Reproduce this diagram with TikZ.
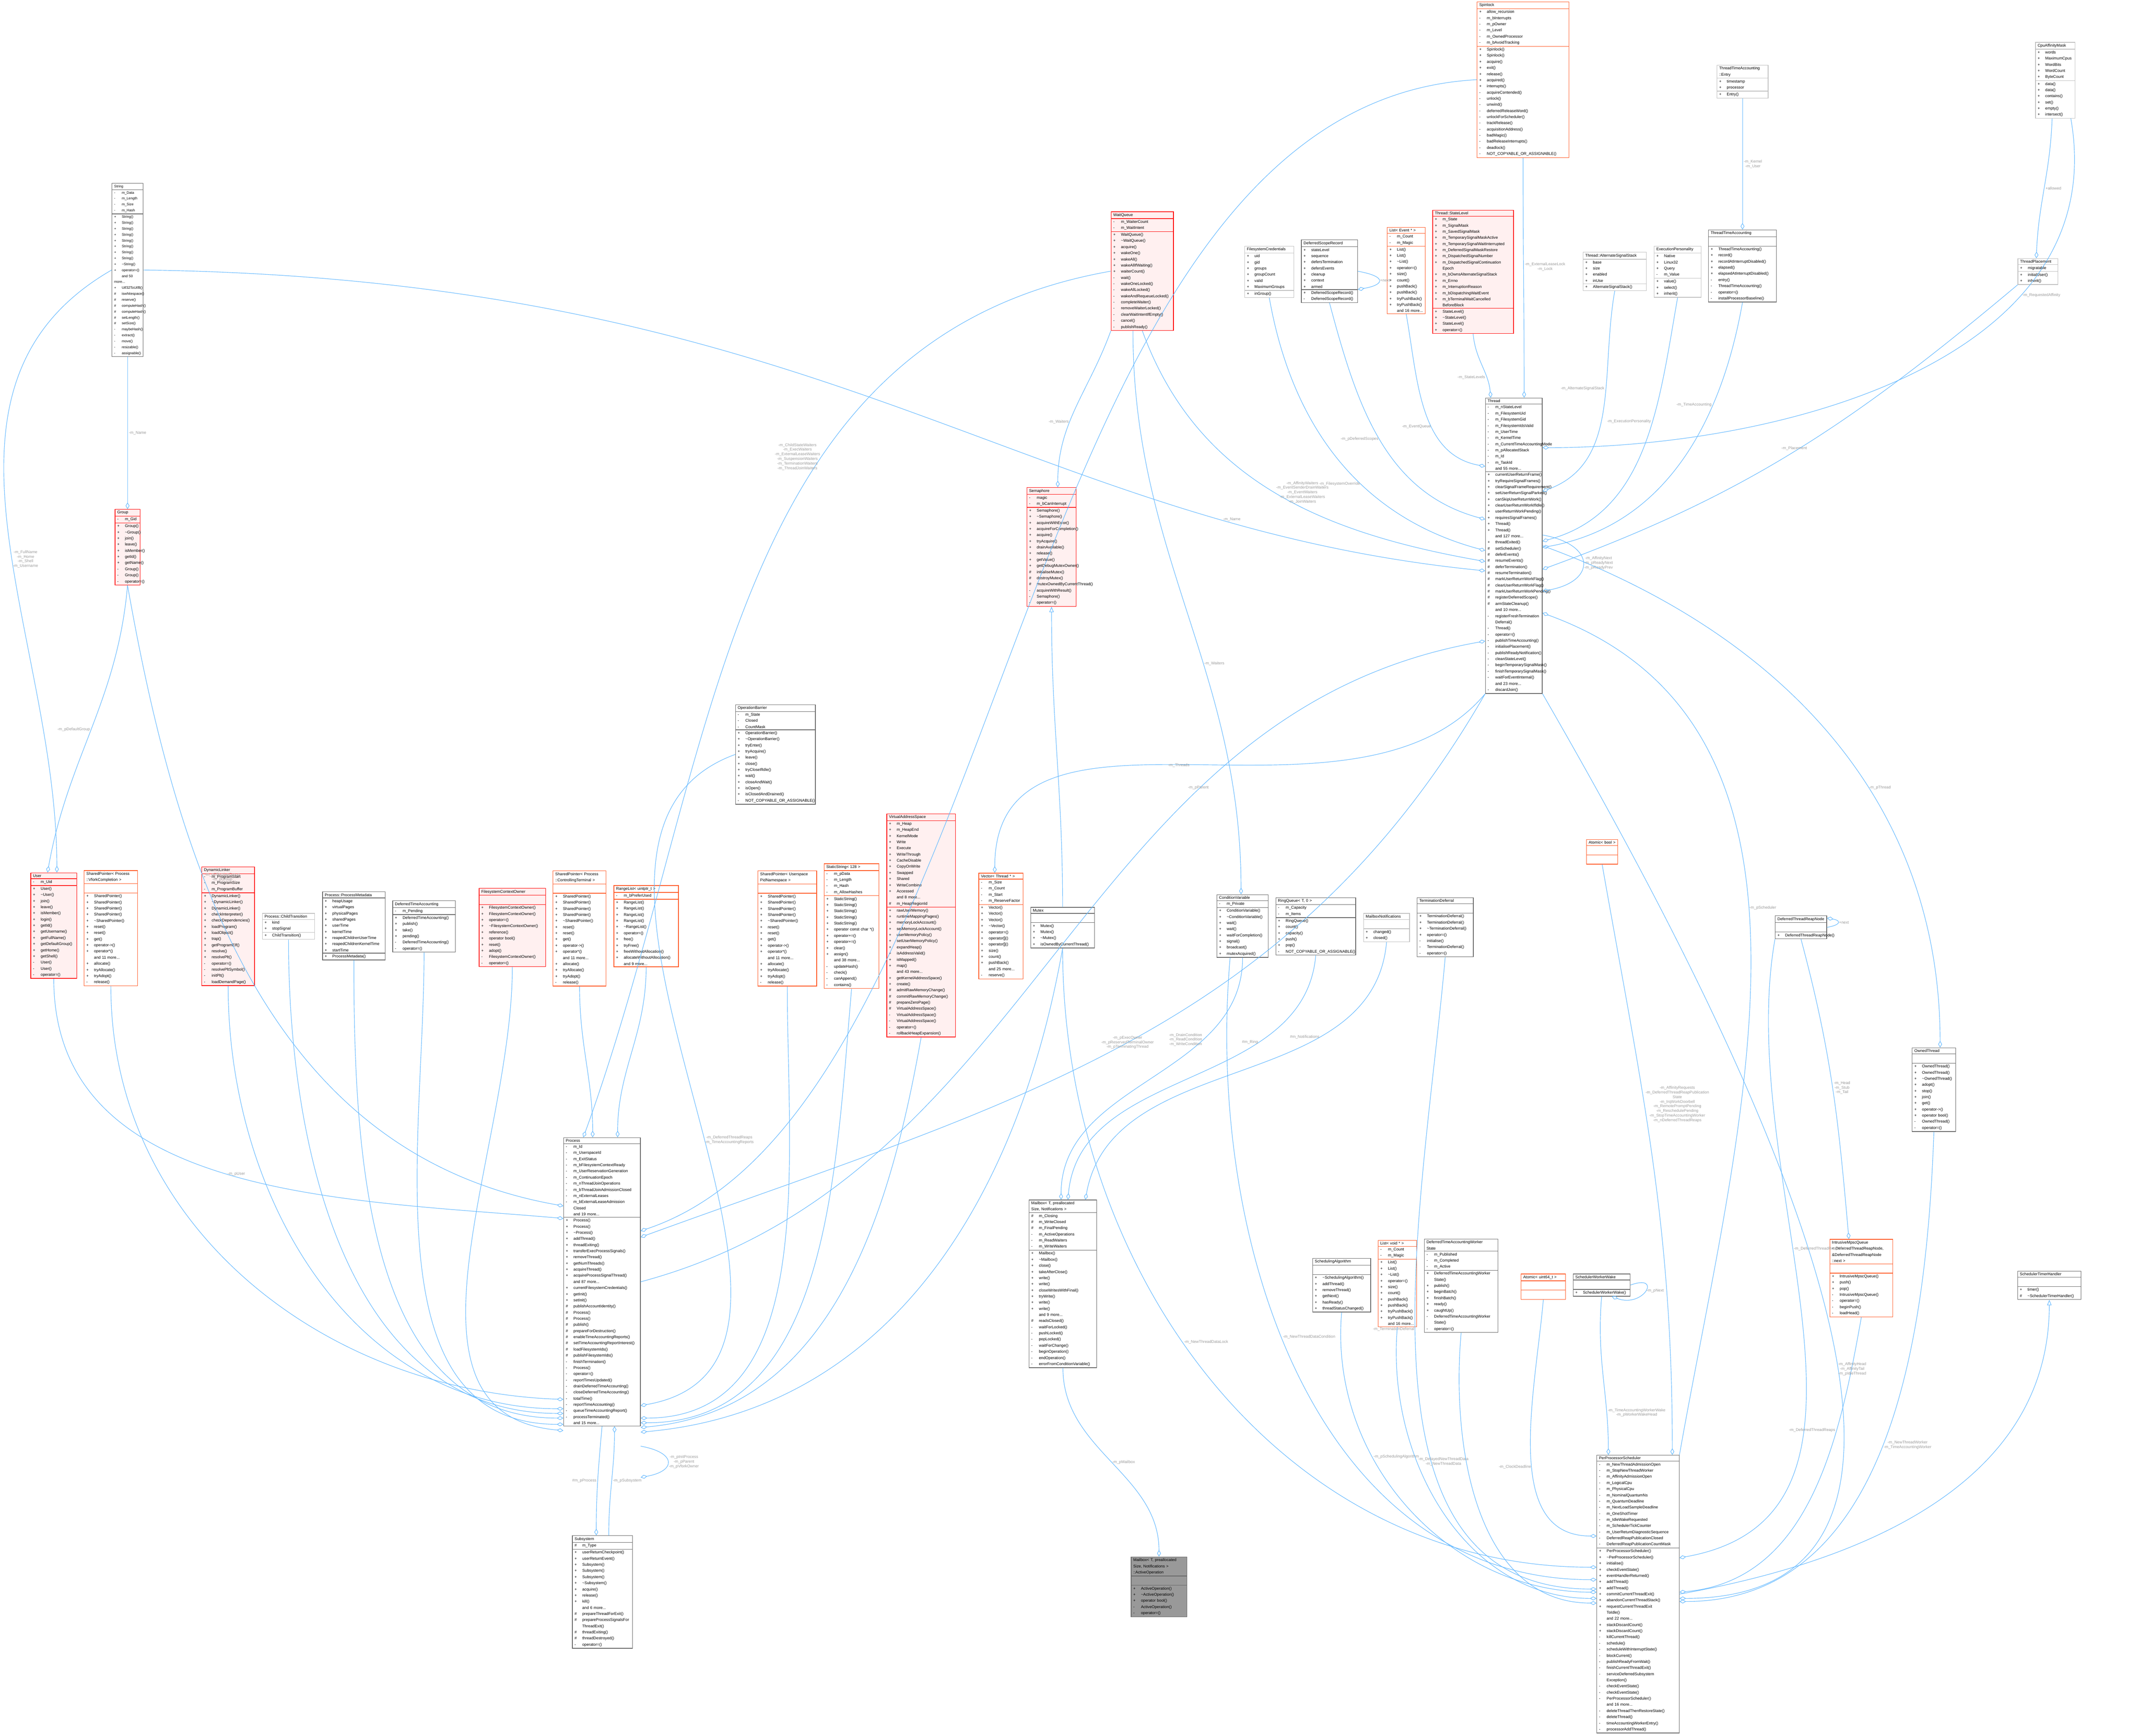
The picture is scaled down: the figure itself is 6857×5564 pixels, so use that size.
\documentclass[tikz,border=0pt]{standalone}
\usepackage{fontspec}
\setmainfont{Liberation Sans}
\usepackage{tikz}
\usetikzlibrary{arrows.meta}
\usetikzlibrary{shapes.multipart}
\usetikzlibrary{calc}

\definecolor{edgeblue}{HTML}{63B8FF}
\definecolor{lblgray}{HTML}{9A9A9A}
\definecolor{boxgray}{HTML}{666666}
\definecolor{boxlight}{HTML}{BFBFBF}
\definecolor{boxred}{HTML}{FF0000}
\definecolor{redfill}{HTML}{FFF0F0}
\definecolor{boxorange}{HTML}{FF5722}
\definecolor{focusfill}{HTML}{999999}

\newcommand\cpub[1]{\makebox[7pt][l]{+}#1}
\newcommand\cpri[1]{\makebox[7pt][l]{-}#1}
\newcommand\cpro[1]{\makebox[7pt][l]{\#}#1}
\newcommand\cnone[1]{\makebox[7pt][l]{}#1}
\newcommand\tld{\textasciitilde}
% name, style, x, y, width, title, attributes, methods
\newcommand\cls[8]{\node[#2, text width=\dimexpr0.01cm*#5-4pt\relax] (#1) at (#3,#4) {#6\nodepart{two}#7\nodepart{three}#8};}

\begin{document}
\catcode`\_=12
\begin{tikzpicture}[x=0.01cm,y=-0.01cm,
    umlbase/.style={rectangle split, rectangle split parts=3, anchor=north west,
        rectangle split part align={center,left,left}, inner xsep=2pt, inner ysep=1.2pt,
        line width=0.5pt, font=\fontsize{3.6}{5.6}\selectfont},
    clsgray/.style={umlbase, draw=boxgray, fill=white},
    clslight/.style={umlbase, draw=boxlight, fill=white},
    clsred/.style={umlbase, draw=boxred, fill=redfill},
    clsorange/.style={umlbase, draw=boxorange, fill=white},
    clsfocus/.style={umlbase, draw=boxgray, fill=focusfill},
    agg/.style={draw=edgeblue, line width=0.45pt, -{Diamond[open,length=6pt,width=3.5pt]}},
    inh/.style={draw=edgeblue, line width=0.45pt, -{Triangle[open,length=5pt,width=4pt]}},
    lbl/.style={text=lblgray, font=\fontsize{3.6}{4.2}\selectfont, align=center, inner sep=1pt}]

\useasboundingbox (0,0) rectangle (6857,5564);

% top rows
\cls{Spinlock}{clsorange}{4734}{5}{295}{Spinlock}
 {\cpub{allow_recursion}\\\cpri{m_bInterrupts}\\\cpri{m_pOwner}\\\cpri{m_Level}\\\cpri{m_OwnedProcessor}\\\cpri{m_bAvoidTracking}}
 {\cpub{Spinlock()}\\\cpub{Spinlock()}\\\cpub{acquire()}\\\cpub{exit()}\\\cpub{release()}\\\cpub{acquired()}\\\cpub{interrupts()}\\\cpri{acquireContended()}\\\cpri{unlock()}\\\cpri{unwind()}\\\cpri{deferredReleaseWord()}\\\cpri{unlockForScheduler()}\\\cpri{trackRelease()}\\\cpri{acquisitionAddress()}\\\cpri{badMagic()}\\\cpri{badReleaseInterrupts()}\\\cpri{deadlock()}\\\cpri{NOT_COPYABLE_OR_ASSIGNABLE()}}
\cls{String}{clsgray,font=\fontsize{3.2}{5.4}\selectfont}{358}{587}{100}{String}
 {\cpri{m_Data}\\\cpri{m_Length}\\\cpri{m_Size}\\\cpri{m_Hash}}
 {\cpub{String()}\\\cpub{String()}\\\cpub{String()}\\\cpub{String()}\\\cpub{String()}\\\cpub{String()}\\\cpub{String()}\\\cpub{String()}\\\cpub{\tld String()}\\\cpub{operator=()}\\\cnone{and 50 more...}\\\cpub{Utf32ToUtf8()}\\\cpro{iswhitespace()}\\\cpro{reserve()}\\\cpro{computeHash()}\\\cpro{computeHash()}\\\cpro{setLength()}\\\cpro{setSize()}\\\cpri{maybeHash()}\\\cpri{extract()}\\\cpri{move()}\\\cpri{resizable()}\\\cpri{assignable()}}
\cls{Group}{clsred}{368}{1632}{80}{Group}
 {\cpri{m_Gid}}
 {\cpub{Group()}\\\cpub{\tld Group()}\\\cpub{join()}\\\cpub{leave()}\\\cpub{isMember()}\\\cpub{getId()}\\\cpub{getName()}\\\cpri{Group()}\\\cpri{Group()}\\\cpri{operator=()}}
\cls{WaitQueue}{clsred}{3561}{678}{200}{WaitQueue}
 {\cpri{m_WaiterCount}\\\cpri{m_WaitIntent}}
 {\cpub{WaitQueue()}\\\cpub{\tld WaitQueue()}\\\cpub{acquire()}\\\cpub{wakeOne()}\\\cpub{wakeAll()}\\\cpub{wakeAllIfWaiting()}\\\cpub{waiterCount()}\\\cpri{wait()}\\\cpri{wakeOneLocked()}\\\cpri{wakeAllLocked()}\\\cpri{wakeAndRequeueLocked()}\\\cpri{completeWaiter()}\\\cpri{removeWaiterLocked()}\\\cpri{clearWaitIntentIfEmpty()}\\\cpri{cancel()}\\\cpri{publishReady()}}
\cls{FsCreds}{clslight}{3989}{788}{158}{FilesystemCredentials}
 {\cpub{uid}\\\cpub{gid}\\\cpub{groups}\\\cpub{groupCount}\\\cpub{valid}\\\cpub{MaximumGroups}}
 {\cpub{inGroup()}}
\cls{ScopeRecord}{clsgray}{4171}{768}{180}{DeferredScopeRecord}
 {\cpub{stateLevel}\\\cpub{sequence}\\\cpub{defersTermination}\\\cpub{defersEvents}\\\cpub{cleanup}\\\cpub{context}\\\cpub{armed}}
 {\cpub{DeferredScopeRecord()}\\\cpri{DeferredScopeRecord()}}
\cls{ListEvent}{clsorange}{4446}{728}{122}{List< Event * >}
 {\cpri{m_Count}\\\cpri{m_Magic}}
 {\cpub{List()}\\\cpub{List()}\\\cpub{\tld List()}\\\cpub{operator=()}\\\cpub{size()}\\\cpub{count()}\\\cpub{pushBack()}\\\cpub{pushBack()}\\\cpub{tryPushBack()}\\\cpub{tryPushBack()}\\\cnone{and 16 more...}}
\cls{StateLevel}{clsred}{4592}{673}{259}{Thread::StateLevel}
 {\cpub{m_State}\\\cpub{m_SignalMask}\\\cpub{m_SavedSignalMask}\\\cpub{m_TemporarySignalMaskActive}\\\cpub{m_TemporarySignalWaitInterrupted}\\\cpub{m_DeferredSignalMaskRestore}\\\cpub{m_DispatchedSignalNumber}\\\cpub{m_DispatchedSignalContinuation}\\\cnone{Epoch}\\\cpub{m_bOwnsAlternateSignalStack}\\\cpub{m_Errno}\\\cpub{m_InterruptionReason}\\\cpub{m_bDispatchingWaitEvent}\\\cpub{m_bTerminalWaitCancelled}\\\cnone{BeforeBlock}}
 {\cpub{StateLevel()}\\\cpub{\tld StateLevel()}\\\cpub{StateLevel()}\\\cpub{operator=()}}
\cls{AltStack}{clslight}{5074}{808}{203}{Thread::AlternateSignalStack}
 {\cpub{base}\\\cpub{size}\\\cpub{enabled}\\\cpub{inUse}}
 {\cpub{AlternateSignalStack()}}
\cls{Personality}{clslight}{5302}{788}{150}{ExecutionPersonality}
 {\cpub{Native}\\\cpub{Linux32}\\\cpub{Query}\\\cpri{m_Value}}
 {\cpub{value()}\\\cpub{select()}\\\cpub{inherit()}}
\cls{TimeAcct}{clsgray}{5476}{736}{218}{ThreadTimeAccounting}
 {\strut}
 {\cpub{ThreadTimeAccounting()}\\\cpub{record()}\\\cpub{recordAtInterruptDisabled()}\\\cpub{elapsed()}\\\cpub{elapsedAtInterruptDisabled()}\\\cpri{entry()}\\\cpri{ThreadTimeAccounting()}\\\cpri{operator=()}\\\cpri{installProcessorBaseline()}}
\cls{TimeEntry}{clslight}{5503}{208}{164}{ThreadTimeAccounting\\::Entry}
 {\cpub{timestamp}\\\cpub{processor}}
 {\cpub{Entry()}}
\cls{Affinity}{clslight}{6524}{135}{127}{CpuAffinityMask}
 {\cpub{words}\\\cpub{MaximumCpus}\\\cpub{WordBits}\\\cpub{WordCount}\\\cpub{ByteCount}}
 {\cpub{data()}\\\cpub{data()}\\\cpub{contains()}\\\cpub{set()}\\\cpub{empty()}\\\cpub{intersect()}}
\cls{Placement}{clslight}{6468}{828}{128}{ThreadPlacement}
 {\cpub{migratable}}
 {\cpub{initialUser()}\\\cpub{inherit()}}
\cls{Semaphore}{clsred}{3291}{1562}{158}{Semaphore}
 {\cpri{magic}\\\cpri{m_bCanInterrupt}}
 {\cpub{Semaphore()}\\\cpub{\tld Semaphore()}\\\cpub{acquireWithError()}\\\cpub{acquireForCompletion()}\\\cpub{acquire()}\\\cpub{tryAcquire()}\\\cpub{drainAvailable()}\\\cpub{release()}\\\cpub{getValue()}\\\cpub{getDebugMutexOwner()}\\\cpro{initialiseMutex()}\\\cpro{destroyMutex()}\\\cpro{mutexOwnedByCurrentThread()}\\\cpri{acquireWithResult()}\\\cpri{Semaphore()}\\\cpri{operator=()}}
\cls{Thread}{clsgray}{4761}{1275}{182}{Thread}
 {\cpri{m_nStateLevel}\\\cpri{m_FilesystemUid}\\\cpri{m_FilesystemGid}\\\cpri{m_FilesystemIdsValid}\\\cpri{m_UserTime}\\\cpri{m_KernelTime}\\\cpri{m_CurrentTimeAccountingMode}\\\cpri{m_pAllocatedStack}\\\cpri{m_Id}\\\cpri{m_TaskId}\\\cnone{and 55 more...}}
 {\cpub{currentUserReturnFrame()}\\\cpub{tryRequireSignalFrames()}\\\cpub{clearSignalFrameRequirement()}\\\cpub{setUserReturnSignalParked()}\\\cpub{canSkipUserReturnWork()}\\\cpub{clearUserReturnWorkIfIdle()}\\\cpub{userReturnWorkPending()}\\\cpub{requiresSignalFrames()}\\\cpub{Thread()}\\\cpub{Thread()}\\\cnone{and 127 more...}\\\cpub{threadExited()}\\\cpro{setScheduler()}\\\cpro{deferEvents()}\\\cpro{resumeEvents()}\\\cpro{deferTermination()}\\\cpro{resumeTermination()}\\\cpro{markUserReturnWorkFlag()}\\\cpro{clearUserReturnWorkFlag()}\\\cpro{markUserReturnWorkPending()}\\\cpro{registerDeferredScope()}\\\cpro{armStateCleanup()}\\\cnone{and 10 more...}\\\cpri{registerFreshTermination}\\\cnone{Deferral()}\\\cpri{Thread()}\\\cpri{operator=()}\\\cpri{publishTimeAccounting()}\\\cpri{initialisePlacement()}\\\cpri{publishReadyNotification()}\\\cpri{cleanStateLevel()}\\\cpri{beginTemporarySignalMask()}\\\cpri{finishTemporarySignalMask()}\\\cpri{waitForEventInternal()}\\\cnone{and 23 more...}\\\cpri{discardJoin()}}
\cls{OpBarrier}{clsgray}{2357}{2258}{256}{OperationBarrier}
 {\cpri{m_State}\\\cpri{Closed}\\\cpri{CountMask}}
 {\cpub{OperationBarrier()}\\\cpub{\tld OperationBarrier()}\\\cpub{tryEnter()}\\\cpub{tryAcquire()}\\\cpub{leave()}\\\cpub{close()}\\\cpub{tryCloseIfIdle()}\\\cpub{wait()}\\\cpub{closeAndWait()}\\\cpub{isOpen()}\\\cpub{isClosedAndDrained()}\\\cpri{NOT_COPYABLE_OR_ASSIGNABLE()}}

% middle row
\cls{User}{clsred}{98}{2797}{147}{User}
 {\cpri{m_Uid}}
 {\cpub{User()}\\\cpub{\tld User()}\\\cpub{join()}\\\cpub{leave()}\\\cpub{isMember()}\\\cpub{login()}\\\cpub{getId()}\\\cpub{getUsername()}\\\cpub{getFullName()}\\\cpub{getDefaultGroup()}\\\cpub{getHome()}\\\cpub{getShell()}\\\cpri{User()}\\\cpri{User()}\\\cpri{operator=()}}
\cls{SpVfork}{clsorange}{269}{2790}{171}{SharedPointer< Process\\::VforkCompletion >}
 {\strut}
 {\cpub{SharedPointer()}\\\cpub{SharedPointer()}\\\cpub{SharedPointer()}\\\cpub{SharedPointer()}\\\cpub{\tld SharedPointer()}\\\cpub{reset()}\\\cpub{reset()}\\\cpub{get()}\\\cpub{operator->()}\\\cpub{operator*()}\\\cnone{and 11 more...}\\\cpub{allocate()}\\\cpub{tryAllocate()}\\\cpub{tryAdopt()}\\\cpri{release()}}
\cls{Linker}{clsred}{646}{2778}{169}{DynamicLinker}
 {\cpri{m_ProgramStart}\\\cpri{m_ProgramSize}\\\cpri{m_ProgramBuffer}}
 {\cpub{DynamicLinker()}\\\cpub{\tld DynamicLinker()}\\\cpub{DynamicLinker()}\\\cpub{checkInterpreter()}\\\cpub{checkDependencies()}\\\cpub{loadProgram()}\\\cpub{loadObject()}\\\cpub{trap()}\\\cpub{getProgramElf()}\\\cpub{resolve()}\\\cpub{resolvePlt()}\\\cpri{operator=()}\\\cpri{resolvePltSymbol()}\\\cpri{initPlt()}\\\cpri{loadDemandPage()}}
\cls{ChildTrans}{clslight}{840}{2927}{168}{Process::ChildTransition}
 {\cpub{kind}\\\cpub{stopSignal}}
 {\cpub{ChildTransition()}}
\cls{ProcMeta}{clsgray}{1033}{2858}{201}{Process::ProcessMetadata}
 {\cpub{heapUsage}\\\cpub{virtualPages}\\\cpub{physicalPages}\\\cpub{sharedPages}\\\cpub{userTime}\\\cpub{kernelTime}\\\cpub{reapedChildrenUserTime}\\\cpub{reapedChildrenKernelTime}\\\cpub{startTime}}
 {\cpub{ProcessMetadata()}}
\cls{DefTimeAcct}{clsgray}{1258}{2887}{201}{DeferredTimeAccounting}
 {\cpri{m_Pending}}
 {\cpub{DeferredTimeAccounting()}\\\cpub{publish()}\\\cpub{take()}\\\cpub{pending()}\\\cpri{DeferredTimeAccounting()}\\\cpri{operator=()}}
\cls{FsOwner}{clsred}{1535}{2847}{213}{FilesystemContextOwner}
 {\strut}
 {\cpub{FilesystemContextOwner()}\\\cpub{FilesystemContextOwner()}\\\cpub{operator=()}\\\cpub{\tld FilesystemContextOwner()}\\\cpub{reference()}\\\cpub{operator bool()}\\\cpub{reset()}\\\cpub{adopt()}\\\cpri{FilesystemContextOwner()}\\\cpri{operator=()}}
\cls{SpTerminal}{clsorange}{1772}{2791}{170}{SharedPointer< Process\\::ControllingTerminal >}
 {\strut}
 {\cpub{SharedPointer()}\\\cpub{SharedPointer()}\\\cpub{SharedPointer()}\\\cpub{SharedPointer()}\\\cpub{\tld SharedPointer()}\\\cpub{reset()}\\\cpub{reset()}\\\cpub{get()}\\\cpub{operator->()}\\\cpub{operator*()}\\\cnone{and 11 more...}\\\cpub{allocate()}\\\cpub{tryAllocate()}\\\cpub{tryAdopt()}\\\cpri{release()}}
\cls{RangeList}{clsorange}{1967}{2838}{207}{RangeList< uintptr_t >}
 {\cpri{m_bPreferUsed}}
 {\cpub{RangeList()}\\\cpub{RangeList()}\\\cpub{RangeList()}\\\cpub{RangeList()}\\\cpub{\tld RangeList()}\\\cpub{operator=()}\\\cpub{free()}\\\cpub{tryFree()}\\\cpub{freeWithoutAllocation()}\\\cpub{allocateWithoutAllocation()}\\\cnone{and 9 more...}}
\cls{SpPidNs}{clsorange}{2429}{2791}{188}{SharedPointer< Userspace\\PidNamespace >}
 {\strut}
 {\cpub{SharedPointer()}\\\cpub{SharedPointer()}\\\cpub{SharedPointer()}\\\cpub{SharedPointer()}\\\cpub{\tld SharedPointer()}\\\cpub{reset()}\\\cpub{reset()}\\\cpub{get()}\\\cpub{operator->()}\\\cpub{operator*()}\\\cnone{and 11 more...}\\\cpub{allocate()}\\\cpub{tryAllocate()}\\\cpub{tryAdopt()}\\\cpri{release()}}
\cls{StaticStr}{clsorange}{2641}{2768}{176}{StaticString< 128 >}
 {\cpri{m_pData}\\\cpri{m_Length}\\\cpri{m_Hash}\\\cpri{m_AllowHashes}}
 {\cpub{StaticString()}\\\cpub{StaticString()}\\\cpub{StaticString()}\\\cpub{StaticString()}\\\cpub{StaticString()}\\\cpub{operator const char *()}\\\cpub{operator+=()}\\\cpub{operator+=()}\\\cpub{clear()}\\\cpub{assign()}\\\cnone{and 38 more...}\\\cpri{updateHash()}\\\cpri{check()}\\\cpri{canAppend()}\\\cpri{contains()}}
\cls{Vas}{clsred}{2842}{2608}{220}{VirtualAddressSpace}
 {\cpub{m_Heap}\\\cpub{m_HeapEnd}\\\cpub{KernelMode}\\\cpub{Write}\\\cpub{Execute}\\\cpub{WriteThrough}\\\cpub{CacheDisable}\\\cpub{CopyOnWrite}\\\cpub{Swapped}\\\cpub{Shared}\\\cpub{WriteCombine}\\\cpub{Accessed}\\\cnone{and 8 more...}\\\cpro{m_HeapRegionId}}
 {\cpub{rawUserMemory()}\\\cpub{runtimeMappingPages()}\\\cpub{memoryLockAccount()}\\\cpub{setMemoryLockAccount()}\\\cpub{userMemoryPolicy()}\\\cpub{setUserMemoryPolicy()}\\\cpub{expandHeap()}\\\cpub{isAddressValid()}\\\cpub{isMapped()}\\\cpub{map()}\\\cnone{and 43 more...}\\\cpub{getKernelAddressSpace()}\\\cpub{create()}\\\cpro{admitRawMemoryChange()}\\\cpro{commitRawMemoryChange()}\\\cpro{prepareZeroPage()}\\\cpro{VirtualAddressSpace()}\\\cpri{VirtualAddressSpace()}\\\cpri{VirtualAddressSpace()}\\\cpri{operator=()}\\\cpri{rollbackHeapExpansion()}}
\cls{VecThread}{clsorange}{3137}{2798}{142}{Vector< Thread * >}
 {\cpri{m_Size}\\\cpri{m_Count}\\\cpri{m_Start}\\\cpri{m_ReserveFactor}}
 {\cpub{Vector()}\\\cpub{Vector()}\\\cpub{Vector()}\\\cpub{\tld Vector()}\\\cpub{operator=()}\\\cpub{operator[]()}\\\cpub{operator[]()}\\\cpub{size()}\\\cpub{count()}\\\cpub{pushBack()}\\\cnone{and 25 more...}\\\cpri{reserve()}}
\cls{Mutex}{clsgray}{3303}{2908}{205}{Mutex}
 {\strut}
 {\cpub{Mutex()}\\\cpub{Mutex()}\\\cpub{\tld Mutex()}\\\cpub{isOwnedByCurrentThread()}}
\cls{CondVar}{clsgray}{3900}{2867}{165}{ConditionVariable}
 {\cpri{m_Private}}
 {\cpub{ConditionVariable()}\\\cpub{\tld ConditionVariable()}\\\cpub{wait()}\\\cpub{wait()}\\\cpub{waitForCompletion()}\\\cpub{signal()}\\\cpub{broadcast()}\\\cpub{mutexAcquired()}}
\cls{Ring}{clsgray}{4089}{2877}{256}{RingQueue< T, 0 >}
 {\cpri{m_Capacity}\\\cpri{m_Items}}
 {\cpub{RingQueue()}\\\cpub{count()}\\\cpub{capacity()}\\\cpub{push()}\\\cpub{pop()}\\\cpri{NOT_COPYABLE_OR_ASSIGNABLE()}}
\cls{Notif}{clslight}{4370}{2927}{148}{MailboxNotifications}
 {\strut}
 {\cpub{changed()}\\\cpub{closed()}}
\cls{TermDef}{clsgray}{4542}{2877}{180}{TerminationDeferral}
 {\strut}
 {\cpub{TerminationDeferral()}\\\cpub{TerminationDeferral()}\\\cpub{\tld TerminationDeferral()}\\\cpub{operator=()}\\\cpri{initialise()}\\\cpri{TerminationDeferral()}\\\cpri{operator=()}}
\cls{AtomicBool}{clsorange}{5085}{2690}{100}{Atomic< bool >}{\strut}{\strut}
\cls{ReapNode}{clsgray}{5690}{2935}{165}{DeferredThreadReapNode}
 {\strut}
 {\cpub{DeferredThreadReapNode()}}
\cls{Owned}{clsgray}{6129}{3358}{139}{OwnedThread}
 {\strut}
 {\cpub{OwnedThread()}\\\cpub{OwnedThread()}\\\cpub{\tld OwnedThread()}\\\cpub{adopt()}\\\cpub{stop()}\\\cpub{join()}\\\cpub{get()}\\\cpub{operator->()}\\\cpub{operator bool()}\\\cpri{OwnedThread()}\\\cpri{operator=()}}

% lower rows
\cls{Process}{clsgray}{1806}{3646}{246}{Process}
 {\cpri{m_Id}\\\cpri{m_UserspaceId}\\\cpri{m_ExitStatus}\\\cpri{m_bFilesystemContextReady}\\\cpri{m_UserReservationGeneration}\\\cpri{m_ContinuationEpoch}\\\cpri{m_nThreadJoinOperations}\\\cpri{m_bThreadJoinAdmissionClosed}\\\cpri{m_nExternalLeases}\\\cpri{m_bExternalLeaseAdmission}\\\cnone{Closed}\\\cnone{and 19 more...}}
 {\cpub{Process()}\\\cpub{Process()}\\\cpub{\tld Process()}\\\cpub{addThread()}\\\cpub{threadExiting()}\\\cpub{transferExecProcessSignals()}\\\cpub{removeThread()}\\\cpub{getNumThreads()}\\\cpub{acquireThread()}\\\cpub{acquireProcessSignalThread()}\\\cnone{and 87 more...}\\\cpub{currentFilesystemCredentials()}\\\cpub{getInit()}\\\cpub{setInit()}\\\cpro{publishAccountIdentity()}\\\cpro{Process()}\\\cpro{Process()}\\\cpro{publish()}\\\cpro{prepareForDestruction()}\\\cpro{enableTimeAccountingReports()}\\\cpro{setTimeAccountingReportInterest()}\\\cpro{loadFilesystemIds()}\\\cpro{publishFilesystemIds()}\\\cpri{finishTermination()}\\\cpri{Process()}\\\cpri{operator=()}\\\cpri{reportTimesUpdated()}\\\cpri{drainDeferredTimeAccounting()}\\\cpri{closeDeferredTimeAccounting()}\\\cpri{totalTime()}\\\cpri{reportTimeAccounting()}\\\cpri{queueTimeAccountingReport()}\\\cpri{processTerminated()}\\\cnone{and 15 more...}}
\cls{Subsystem}{clsgray}{1834}{4922}{193}{Subsystem}
 {\cpro{m_Type}}
 {\cpub{userReturnCheckpoint()}\\\cpub{userReturnEvent()}\\\cpub{Subsystem()}\\\cpub{Subsystem()}\\\cpub{Subsystem()}\\\cpub{\tld Subsystem()}\\\cpub{acquire()}\\\cpub{release()}\\\cpub{kill()}\\\cnone{and 6 more...}\\\cpro{prepareThreadForExit()}\\\cpro{prepareProcessSignalsFor}\\\cnone{ThreadExit()}\\\cpro{threadExiting()}\\\cpro{threadDestroyed()}\\\cpri{operator=()}}
\cls{Mailbox}{clsgray}{3298}{3846}{217}{Mailbox< T, preallocated\\Size, Notifications >}
 {\cpro{m_Closing}\\\cpro{m_WriteClosed}\\\cpro{m_FinalPending}\\\cpri{m_ActiveOperations}\\\cpri{m_ReadWaiters}\\\cpri{m_WriteWaiters}}
 {\cpub{Mailbox()}\\\cpub{\tld Mailbox()}\\\cpub{close()}\\\cpub{takeAfterClose()}\\\cpub{write()}\\\cpub{write()}\\\cpub{closeWritesWithFinal()}\\\cpub{tryWrite()}\\\cpub{write()}\\\cpub{write()}\\\cnone{and 9 more...}\\\cpro{readsClosed()}\\\cpri{waitForLocked()}\\\cpri{pushLocked()}\\\cpri{popLocked()}\\\cpri{waitForChange()}\\\cpri{beginOperation()}\\\cpri{endOperation()}\\\cpri{errorFromConditionVariable()}}
\cls{SchedAlgo}{clsgray}{4207}{4033}{186}{SchedulingAlgorithm}
 {\strut}
 {\cpub{\tld SchedulingAlgorithm()}\\\cpub{addThread()}\\\cpub{removeThread()}\\\cpub{getNext()}\\\cpub{hasReady()}\\\cpub{threadStatusChanged()}}
\cls{ListVoid}{clsorange}{4417}{3975}{123}{List< void * >}
 {\cpri{m_Count}\\\cpri{m_Magic}}
 {\cpub{List()}\\\cpub{List()}\\\cpub{\tld List()}\\\cpub{operator=()}\\\cpub{size()}\\\cpub{count()}\\\cpub{pushBack()}\\\cpub{pushBack()}\\\cpub{tryPushBack()}\\\cpub{tryPushBack()}\\\cnone{and 16 more...}}
\cls{WorkerState}{clsgray}{4565}{3971}{236}{DeferredTimeAccountingWorker\\State}
 {\cpri{m_Published}\\\cpri{m_Completed}\\\cpri{m_Active}}
 {\cpub{DeferredTimeAccountingWorker}\\\cnone{State()}\\\cpub{publish()}\\\cpub{beginBatch()}\\\cpub{finishBatch()}\\\cpub{ready()}\\\cpub{caughtUp()}\\\cpri{DeferredTimeAccountingWorker}\\\cnone{State()}\\\cpri{operator=()}}
\cls{AtomicU64}{clsorange}{4875}{4083}{143}{Atomic< uint64_t >}{\strut}{\strut}
\cls{WorkerWake}{clsgray}{5042}{4083}{183}{SchedulerWorkerWake}
 {\strut}
 {\cpub{SchedulerWorkerWake()}}
\cls{Mpsc}{clsorange}{5865}{3972}{202}{IntrusiveMpscQueue\\< DeferredThreadReapNode,\\\&DeferredThreadReapNode\\::next >}
 {\strut}
 {\cpub{IntrusiveMpscQueue()}\\\cpub{push()}\\\cpub{pop()}\\\cpri{IntrusiveMpscQueue()}\\\cpri{operator=()}\\\cpri{beginPush()}\\\cpri{loadHead()}}
\cls{TimerHandler}{clsgray}{6467}{4074}{203}{SchedulerTimerHandler}
 {\strut}
 {\cpub{timer()}\\\cpro{\tld SchedulerTimerHandler()}}
\cls{Pps}{clsgray}{5118}{4664}{264}{PerProcessorScheduler}
 {\cpri{m_NewThreadAdmissionOpen}\\\cpri{m_StopNewThreadWorker}\\\cpri{m_AffinityAdmissionOpen}\\\cpri{m_LogicalCpu}\\\cpri{m_PhysicalCpu}\\\cpri{m_NominalQuantumNs}\\\cpri{m_QuantumDeadline}\\\cpri{m_NextLoadSampleDeadline}\\\cpri{m_OneShotTimer}\\\cpri{m_IdleWakeRequested}\\\cpri{m_SchedulerTickCounter}\\\cpri{m_UserReturnDiagnosticSequence}\\\cpri{DeferredReapPublicationClosed}\\\cpri{DeferredReapPublicationCountMask}}
 {\cpub{PerProcessorScheduler()}\\\cpub{\tld PerProcessorScheduler()}\\\cpub{initialise()}\\\cpub{checkEventState()}\\\cpub{eventHandlerReturned()}\\\cpub{addThread()}\\\cpub{addThread()}\\\cpub{commitCurrentThreadExit()}\\\cpub{abandonCurrentThreadStack()}\\\cpub{requestCurrentThreadExit}\\\cnone{ToIdle()}\\\cnone{and 22 more...}\\\cpub{stackDiscardCount()}\\\cpub{stackDiscardCount()}\\\cpri{killCurrentThread()}\\\cpri{schedule()}\\\cpri{scheduleWithInterruptState()}\\\cpri{blockCurrent()}\\\cpri{publishReadyFromWait()}\\\cpri{finishCurrentThreadExit()}\\\cpri{serviceDeferredSubsystem}\\\cnone{Exception()}\\\cpri{checkEventState()}\\\cpri{checkEventState()}\\\cpri{PerProcessorScheduler()}\\\cnone{and 16 more...}\\\cpri{deleteThreadThenRestoreState()}\\\cpri{deleteThread()}\\\cpri{timeAccountingWorkerEntry()}\\\cpri{processorAddThread()}}
\cls{ActiveOp}{clsfocus}{3625}{4990}{179}{Mailbox< T, preallocated\\Size, Notifications >\\::ActiveOperation}
 {\strut}
 {\cpub{ActiveOperation()}\\\cpub{\tld ActiveOperation()}\\\cpub{operator bool()}\\\cpri{ActiveOperation()}\\\cpri{operator=()}}

% connectors: String, Group, User
\draw[agg] (String.south) -- node[lbl,right]{-m_Name} (Group.north);
\draw[agg] (String.west) to[out=210,in=90] node[lbl,pos=0.55,right]{-m_FullName\\-m_Home\\-m_Shell\\-m_Username} ($(User.north)+(10,0)$);
\draw[agg] (Group.south) to[out=-95,in=80] node[lbl,pos=0.5,left]{-m_pDefaultGroup} ($(User.north)+(-20,0)$);
\draw[agg] (Group.south) to[out=-80,in=170] node[lbl,pos=0.35,right]{-m_pEffectiveGroup\\-m_pGroup} ($(Process.north west)+(0,220)$);
\draw[agg] (User.south) to[out=-90,in=175] node[lbl,pos=0.5,right]{-m_pUser} ($(Process.north west)+(0,260)$);
\draw[agg] (SpVfork.south) to[out=-90,in=178] ($(Process.north west)+(0,840)$);
\draw[agg] (Linker.south) to[out=-90,in=180] ($(Process.north west)+(0,870)$);
\draw[agg] (ChildTrans.south) to[out=-90,in=180] ($(Process.north west)+(0,885)$);
\draw[agg] (ProcMeta.south) to[out=-90,in=180] ($(Process.north west)+(0,900)$);
\draw[agg] (DefTimeAcct.south) to[out=-90,in=180] ($(Process.north west)+(0,920)$);
\draw[agg] (FsOwner.south) to[out=-90,in=175] ($(Process.north west)+(0,940)$);
\draw[agg] (SpTerminal.south) to[out=-90,in=90] ($(Process.north)+(-30,0)$);
\draw[agg] (RangeList.south) to[out=-90,in=90] ($(Process.north)+(50,0)$);
\draw[agg] (WaitQueue.west) to[out=190,in=70] node[lbl,pos=0.35,left]{-m_ChildStateWaiters\\-m_ExecWaiters\\-m_ExternalLeaseWaiters\\-m_SuspensionWaiters\\-m_TerminationWaiters\\-m_ThreadJoinWaiters} ($(Process.north)+(-60,0)$);
\draw[agg] (OpBarrier.west) to[out=200,in=10] node[lbl,pos=0.55,right]{-m_DeferredThreadReaps\\-m_TimeAccountingReports} ($(Process.north east)+(0,860)$);
\draw[agg] (SpPidNs.south) to[out=-90,in=0] ($(Process.north east)+(0,900)$);
\draw[agg] (StaticStr.south) to[out=-95,in=0] ($(Process.north east)+(0,915)$);
\draw[agg] (Vas.south) to[out=-100,in=5] ($(Process.north east)+(0,930)$);
\draw[agg] (Mutex.south) to[out=-100,in=5] ($(Process.north east)+(0,945)$);
\draw[agg] (Spinlock.west) .. controls +(-1500,80) and +(1200,-400) .. ($(Process.north east)+(0,300)$);
\draw[agg] (Thread.south west) to[out=-120,in=20] node[lbl,pos=0.5]{-m_pExecOwner\\-m_pReservedTerminalOwner\\-m_pTerminatingThread} ($(Process.north east)+(0,320)$);
\draw[agg] ($(Process.north east)+(0,990)$) to[out=-10,in=10,looseness=3] node[lbl,right]{-m_pInitProcess\\-m_pParent\\-m_pVforkOwner} ($(Process.north east)+(0,1090)$);
\draw[agg] (Process.south) to[out=-95,in=90] node[lbl,left]{\#m_pProcess} ($(Subsystem.north)+(-20,0)$);
\draw[agg] ($(Subsystem.north)+(20,0)$) to[out=90,in=-90] node[lbl,right]{-m_pSubsystem} ($(Process.south)+(40,0)$);

% connectors into Thread
\draw[agg] (Spinlock.south) to[out=-90,in=90] node[lbl,pos=0.45,right]{-m_ExternalLeaseLock\\-m_Lock} ($(Thread.north)+(33,0)$);
\draw[agg] (StateLevel.south) to[out=-85,in=95] node[lbl,pos=0.7,left]{-m_StateLevels} ($(Thread.north)+(-74,0)$);
\draw[agg] (ListEvent.south) to[out=-80,in=170] node[lbl,pos=0.6,left]{-m_EventQueue} ($(Thread.north west)+(0,220)$);
\draw[agg] (ScopeRecord.south) to[out=-75,in=165] node[lbl,pos=0.5,left]{-m_pDeferredScopes} ($(Thread.north west)+(0,390)$);
\draw[agg] (ScopeRecord.east) to[out=-10,in=10,looseness=4] node[lbl,right]{+next} ($(ScopeRecord.north east)+(0,160)$);
\draw[agg] (FsCreds.south) to[out=-80,in=165] node[lbl,pos=0.6,left]{-m_FilesystemOverride} ($(Thread.north west)+(0,490)$);
\draw[agg] (WaitQueue.south) to[out=-70,in=170] node[lbl,pos=0.5,right]{-m_AffinityWaiters\\-m_EventSenderDrainWaiters\\-m_EventWaiters\\-m_ExternalLeaseWaiters\\-m_JoinWaiters} ($(Thread.north west)+(0,525)$);
\draw[agg] (String.east) .. controls +(2200,30) and +(-1500,-150) .. node[lbl,pos=0.8,above]{-m_Name} ($(Thread.north west)+(0,555)$);
\draw[agg] (AltStack.south) to[out=-100,in=20] node[lbl,pos=0.4,left]{-m_AlternateSignalStack} ($(Thread.north east)+(0,300)$);
\draw[agg] (Personality.south) to[out=-100,in=15] node[lbl,pos=0.4,left]{-m_ExecutionPersonality} ($(Thread.north east)+(0,460)$);
\draw[agg] (TimeAcct.south) to[out=-100,in=10] node[lbl,pos=0.3,left]{-m_TimeAccounting} ($(Thread.north east)+(0,480)$);
\draw[agg] (TimeEntry.south) -- node[lbl,right]{-m_Kernel\\-m_User} (TimeAcct.north);
\draw[agg] ($(Affinity.south)+(-10,0)$) to[out=-92,in=88] node[lbl,right]{+allowed} ($(Placement.north)+(-5,0)$);
\draw[agg] ($(Affinity.south)+(50,0)$) to[out=-80,in=0] node[lbl,pos=0.3,right]{-m_RequestedAffinity} ($(Thread.north east)+(0,160)$);
\draw[agg] (Placement.south west) to[out=-140,in=20] node[lbl,pos=0.5,above]{-m_Placement} ($(Thread.north east)+(0,550)$);
\draw[agg] ($(Thread.north east)+(0,440)$) to[out=-10,in=10,looseness=2.5] node[lbl,right]{-m_AffinityNext\\-m_pReadyNext\\-m_pReadyPrev} ($(Thread.north east)+(0,620)$);
\draw[agg] (Process.east) to[out=15,in=190] node[lbl,pos=0.7,above]{-m_pParent} ($(Thread.north west)+(0,780)$);
\draw[agg] (Pps.north east) to[out=80,in=-20] node[lbl,pos=0.55,right]{-m_pScheduler} ($(Thread.north east)+(0,690)$);

% semaphores and waits
\draw[agg] (WaitQueue.south west) to[out=-110,in=90] node[lbl,pos=0.6,left]{-m_Waiters} ($(Semaphore.north)+(20,0)$);
\draw[agg] ($(WaitQueue.south)+(-30,0)$) to[out=-90,in=90] node[lbl,pos=0.6,right]{-m_Waiters} ($(CondVar.north)+(-5,0)$);
\draw[inh] (Mutex.north) to[out=90,in=-90] (Semaphore.south);

% Mailbox
\draw[agg] (CondVar.south) to[out=-90,in=90] node[lbl,pos=0.3,left]{-m_DrainCondition\\-m_ReadCondition\\-m_WriteCondition} ($(Mailbox.north)+(-6,0)$);
\draw[agg] (Ring.south) to[out=-95,in=85] node[lbl,pos=0.3,left]{\#m_Ring} ($(Mailbox.north)+(16,0)$);
\draw[agg] (Notif.south) to[out=-95,in=80] node[lbl,pos=0.3,left]{\#m_Notifications} ($(Mailbox.north)+(72,0)$);
\draw[agg] (Mailbox.south) to[out=-90,in=90] node[lbl,right]{-m_pMailbox} (ActiveOp.north);

% PerProcessorScheduler
\draw[agg] (Mutex.south) to[out=-90,in=180] node[lbl,pos=0.45,right]{-m_NewThreadDataLock} ($(Pps.north west)+(0,360)$);
\draw[agg] ($(CondVar.south)+(-40,0)$) to[out=-95,in=180] node[lbl,pos=0.45,right]{-m_NewThreadDataCondition} ($(Pps.north west)+(0,400)$);
\draw[agg] (TermDef.south) to[out=-95,in=180] node[lbl,pos=0.45,left]{-m_TerminationDeferral} ($(Pps.north west)+(0,430)$);
\draw[agg] (SchedAlgo.south) to[out=-95,in=180] node[lbl,pos=0.35,right]{-m_pSchedulingAlgorithm} ($(Pps.north west)+(0,440)$);
\draw[agg] (ListVoid.south) to[out=-95,in=180] node[lbl,pos=0.35,right]{-m_DelayedNewThreadData\\-m_NewThreadData} ($(Pps.north west)+(0,460)$);
\draw[agg] (WorkerState.south) to[out=-95,in=180] ($(Pps.north west)+(0,475)$);
\draw[agg] (AtomicU64.south) to[out=-95,in=180] node[lbl,pos=0.55,left]{-m_ClockDeadline} ($(Pps.north west)+(0,260)$);
\draw[agg] (WorkerWake.south) to[out=-95,in=90] node[lbl,pos=0.75,right]{-m_TimeAccountingWorkerWake\\-m_pWorkerWakeHead} ($(Pps.north)+(-95,0)$);
\draw[agg] (WorkerWake.east) to[out=20,in=-20,looseness=4] node[lbl,right]{-m_pNext} ($(WorkerWake.south east)+(-60,0)$);
\draw[agg] (AtomicBool.south) to[out=-80,in=90] node[lbl,pos=0.4,right]{-m_AffinityRequests\\-m_DeferredThreadReapPublication\\State\\-m_IrqWorkDoorbell\\-m_RemotePromptPending\\-m_ReschedulePending\\-m_StopTimeAccountingWorker\\-m_nDeferredThreadReaps} ($(Pps.north)+(110,0)$);
\draw[agg] (ReapNode.south west) to[out=-100,in=10] node[lbl,pos=0.4,right]{-m_DeferredThreadReapStub} ($(Pps.north east)+(0,330)$);
\draw[agg] (ReapNode.south) to[out=-75,in=95] node[lbl,pos=0.5,right]{-m_Head\\-m_Stub\\-m_Tail} ($(Mpsc.north)+(-40,0)$);
\draw[agg] (ReapNode.east) to[out=10,in=-10,looseness=4] node[lbl,right]{+next} ($(ReapNode.north east)+(0,8)$);
\draw[agg] (Mpsc.south) to[out=-100,in=5] node[lbl,pos=0.3,left]{-m_DeferredThreadReaps} ($(Pps.north east)+(0,440)$);
\draw[agg] (Thread.south east) to[out=-60,in=0] node[lbl,pos=0.6,right]{-m_AffinityHead\\-m_AffinityTail\\-m_pIdleThread} ($(Pps.north east)+(0,460)$);
\draw[agg] (Thread.east) to[out=-20,in=90] node[lbl,pos=0.6,right]{-m_pThread} ($(Owned.north)+(20,0)$);
\draw[agg] (Owned.south) to[out=-92,in=0] node[lbl,pos=0.5,right]{-m_NewThreadWorker\\-m_TimeAccountingWorker} ($(Pps.north east)+(0,470)$);
\draw[inh] (Pps.east) to[out=10,in=-90] (TimerHandler.south);
\draw[agg] (Thread.south west) to[out=-130,in=90] node[lbl,pos=0.5,left]{-m_Threads} ($(VecThread.north)+(-20,0)$);

\end{tikzpicture}
\end{document}
